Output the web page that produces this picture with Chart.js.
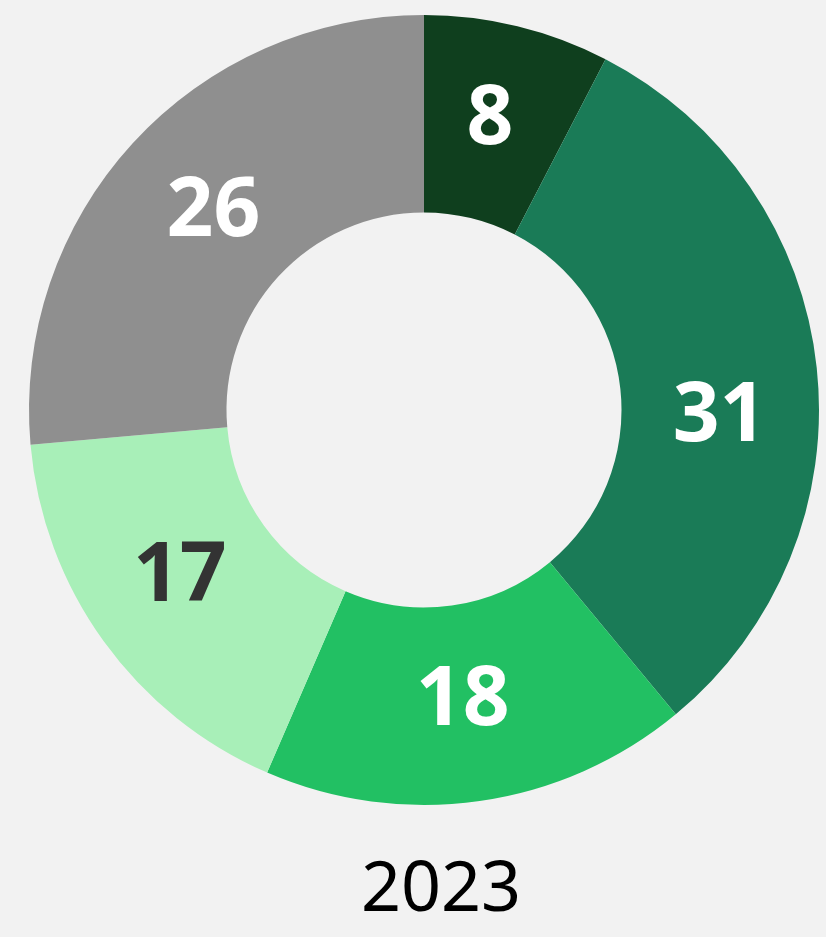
<!DOCTYPE html>
<html>
<head>
<meta charset="utf-8">
<script src="https://cdn.jsdelivr.net/npm/chart.js@4.4.0/dist/chart.umd.min.js"></script>
<style>
  html, body { margin: 0; padding: 0; background: #f2f2f2; }
  #wrap { width: 826px; height: 937px; }
</style>
</head>
<body>
<div id="wrap"><canvas id="c" width="826" height="937"></canvas></div>
<script>
const categories = ["A", "B", "C", "D", "E"];
const values = [7.6, 31.4, 17.5, 17.1, 26.4];
const yearLabel = "2023";

const sliceColors = ["#0f3f1e", "#1a7b57", "#22c063", "#a8efb8", "#8f8f8f"];
const labelColors = ["#ffffff", "#ffffff", "#ffffff", "#333333", "#ffffff"];
const labelNudge = [[-4, -8], [1, 33], [-3, -8], [-4, -12], [8, -4]];

const sliceLabels = {
  id: 'sliceLabels',
  afterDatasetsDraw(chart) {
    const ctx = chart.ctx;
    const meta = chart.getDatasetMeta(0);
    ctx.save();
    ctx.font = "bold 82px 'Noto Sans'";
    ctx.textAlign = 'center';
    ctx.textBaseline = 'alphabetic';
    meta.data.forEach((arc, i) => {
      const p = arc.tooltipPosition();
      const txt = String(Math.round(values[i]));
      const m = ctx.measureText(txt);
      const h = m.actualBoundingBoxAscent;
      ctx.fillStyle = labelColors[i];
      ctx.fillText(txt, p.x + labelNudge[i][0], p.y + labelNudge[i][1] + h / 2);
    });
    // year title under the ring
    const a = chart.chartArea;
    const cx = (a.left + a.right) / 2;
    ctx.font = "70px 'Noto Sans'";
    ctx.fillStyle = '#000000';
    const m2 = ctx.measureText(yearLabel);
    ctx.fillText(yearLabel, cx + 17, a.bottom + 80 + m2.actualBoundingBoxAscent / 2);
    ctx.restore();
  }
};

new Chart(document.getElementById('c'), {
  type: 'doughnut',
  data: {
    labels: categories,
    datasets: [{
      data: values,
      backgroundColor: sliceColors,
      borderWidth: 0,
      hoverOffset: 0
    }]
  },
  options: {
    responsive: false,
    animation: false,
    cutout: '50%',
    layout: { padding: { left: 29, right: 7, top: 15, bottom: 132 } },
    plugins: {
      legend: { display: false },
      tooltip: { enabled: false },
      title: { display: false }
    }
  },
  plugins: [sliceLabels]
});
</script>
</body>
</html>
